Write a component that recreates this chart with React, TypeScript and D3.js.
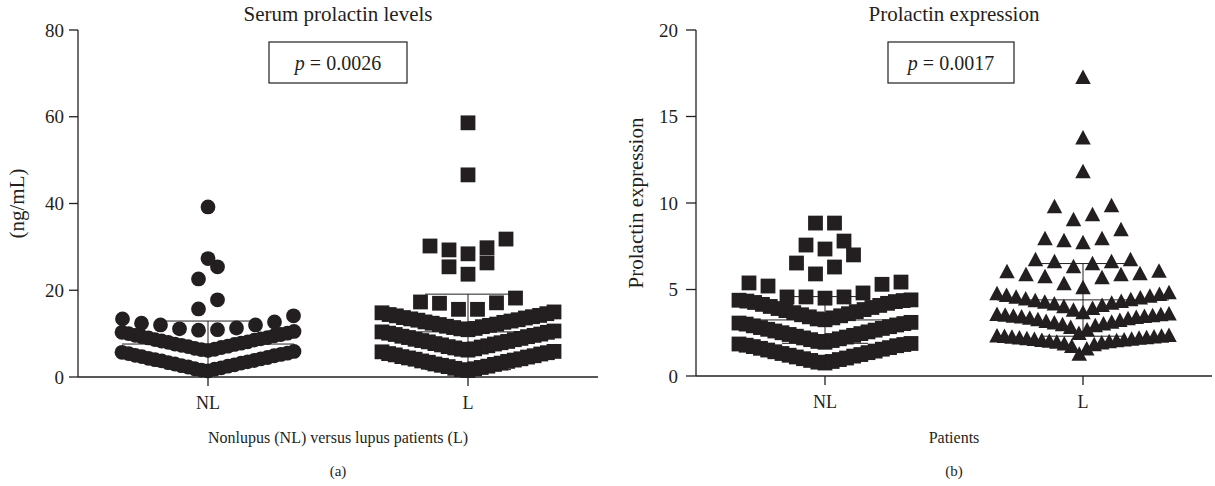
import React from 'react';
import * as d3 from 'd3';

// ---------- data ----------
const categories = ['NL', 'L'];

// Panel (a): serum prolactin (ng/mL)
const serumNL = [
  1.4, 1.6, 1.8, 1.9, 2.1, 2.3, 2.5, 2.6, 2.8, 3.0, 3.2, 3.3, 3.5, 3.7, 3.8, 4.0, 4.2, 4.3, 4.5, 4.7,
  4.9, 5.0, 5.2, 5.4, 5.5, 5.7, 5.9,
  6.1, 6.3, 6.4, 6.6, 6.8, 7.0, 7.1, 7.3, 7.5, 7.6, 7.8, 8.0, 8.1, 8.3, 8.5, 8.6, 8.8, 9.0, 9.1, 9.3,
  9.5, 9.6, 9.8, 10.0, 10.1, 10.3, 10.5,
  10.8, 10.9, 11.1, 11.3, 12.0, 12.0, 12.4, 12.7, 13.4, 14.1,
  15.7, 17.8, 22.6, 25.4, 27.3, 39.2,
];
const serumL = [
  1.5, 1.7, 1.9, 2.0, 2.2, 2.4, 2.5, 2.7, 2.9, 3.0, 3.2, 3.4, 3.6, 3.7, 3.9, 4.1, 4.2, 4.4, 4.6, 4.7,
  4.9, 5.1, 5.3, 5.4, 5.6, 5.8, 5.9,
  6.2, 6.4, 6.5, 6.7, 6.9, 7.0, 7.2, 7.4, 7.6, 7.7, 7.9, 8.1, 8.2, 8.4, 8.6, 8.7, 8.9, 9.1, 9.3, 9.4,
  9.6, 9.8, 9.9, 10.1, 10.3, 10.4, 10.6,
  10.9, 11.1, 11.2, 11.4, 11.6, 11.7, 11.9, 12.1, 12.2, 12.4, 12.6, 12.7, 12.9, 13.1, 13.2, 13.4, 13.6,
  13.7, 13.9, 14.1, 14.2, 14.4, 14.6, 14.8, 15.0,
  15.6, 15.6, 17.0, 17.1, 17.3, 18.2,
  23.7, 25.4, 26.3, 28.4, 29.3, 29.8, 30.2, 31.8, 46.6, 58.6,
];
const serumMean = [7.6, 10.4];
const serumSD = [5.3, 8.7];
const serumTicks = [0, 20, 40, 60, 80];

// Panel (b): prolactin expression
const exprNL = [
  0.75, 0.8, 0.84, 0.9, 0.95, 1.0, 1.04, 1.1, 1.15, 1.2, 1.24, 1.3, 1.35, 1.4, 1.44, 1.5, 1.55, 1.6,
  1.64, 1.7, 1.75, 1.78, 1.82, 1.85, 1.88,
  1.95, 2.0, 2.05, 2.1, 2.15, 2.2, 2.25, 2.3, 2.35, 2.4, 2.45, 2.5, 2.55, 2.6, 2.65, 2.7, 2.75, 2.8,
  2.85, 2.9, 2.95, 3.0, 3.03, 3.06, 3.1,
  3.25, 3.3, 3.36, 3.42, 3.48, 3.54, 3.6, 3.66, 3.72, 3.78, 3.84, 3.9, 3.96, 4.02, 4.08, 4.14, 4.2,
  4.25, 4.3, 4.33, 4.36, 4.38, 4.4,
  4.5, 4.57, 4.57, 4.57, 4.8, 5.2, 5.3, 5.38, 5.43,
  5.9, 6.3, 6.53, 7.0, 7.34, 7.57, 7.8, 8.84, 8.84,
];
const exprL = [
  1.3, 1.6, 1.75, 1.85, 1.9, 1.95, 2.0, 2.02, 2.05, 2.08, 2.1, 2.12, 2.15, 2.17, 2.2, 2.22, 2.24, 2.26,
  2.28, 2.3, 2.32, 2.34, 2.36, 2.38,
  2.5, 2.7, 2.85, 2.95, 3.0, 3.05, 3.1, 3.15, 3.2, 3.25, 3.3, 3.35, 3.38, 3.42, 3.45, 3.48, 3.5, 3.53,
  3.56, 3.58, 3.6, 3.62,
  3.7, 3.85, 3.95, 4.05, 4.12, 4.2, 4.25, 4.3, 4.35, 4.4, 4.45, 4.5, 4.55, 4.6, 4.65, 4.7, 4.75, 4.8, 4.85,
  5.14, 5.37, 5.72, 5.78, 5.9, 5.9, 5.95, 6.07, 6.1,
  6.36, 6.53, 6.65, 6.65, 6.76, 6.76,
  7.75, 7.86, 7.98, 7.98, 8.5,
  9.07, 9.36, 9.83, 9.88,
  11.85, 13.8, 17.3,
];
const exprMean = [3.24, 4.4];
const exprSD = [1.35, 2.1];
const exprTicks = [0, 5, 10, 15, 20];

// ---------- layout helpers ----------
const INK = '#231f20';
const FONT = '"Liberation Serif", "Times New Roman", serif';

type Pt = { v: number; off: number };

function swarm(values: number[], pxPerUnit: number, binPx: number, maxStep: number, maxHalf: number): Pt[] {
  const sorted = [...values].sort(d3.ascending);
  const binH = binPx / pxPerUnit;
  const out: Pt[] = [];
  let i = 0;
  while (i < sorted.length) {
    const v0 = sorted[i];
    let j = i;
    while (j < sorted.length && sorted[j] < v0 + binH) j++;
    const row = sorted.slice(i, j);
    const n = row.length;
    const s = n > 1 ? Math.min(maxStep, (2 * maxHalf) / (n - 1)) : 0;
    row.forEach((v, k) => {
      let off: number;
      if (n % 2 === 1) {
        const m = Math.ceil(k / 2);
        off = k === 0 ? 0 : (k % 2 === 1 ? -m : m) * s;
      } else {
        const m = Math.floor(k / 2) + 0.5;
        off = (k % 2 === 0 ? -m : m) * s;
      }
      out.push({ v, off });
    });
    i = j;
  }
  return out;
}

function Symbol({ kind, x, y }: { kind: string; x: number; y: number }) {
  if (kind === 'circle') return <circle cx={x} cy={y} r={7.4} fill={INK} />;
  if (kind === 'square') return <rect x={x - 7.4} y={y - 7.4} width={14.8} height={14.8} fill={INK} />;
  const w = 15.5, h = 14.5;
  return <path d={`M${x},${y - h / 2}L${x + w / 2},${y + h / 2}L${x - w / 2},${y + h / 2}Z`} fill={INK} />;
}

type PanelProps = {
  x0: number; x1: number; yTop: number; yBottom: number;
  domainMax: number; ticks: number[];
  groups: number[][]; kinds: string[];
  means: number[]; sds: number[];
  title: string; pText: string; boxX0: number; boxX1: number;
  yLabel: string; yLabelX: number; tickLabelX: number; tickLen: number;
  xTitle: string; letter: string;
};

function Panel(p: PanelProps) {
  const y = d3.scaleLinear().domain([0, p.domainMax]).range([p.yBottom, p.yTop]);
  const x = d3.scaleBand<string>().domain(categories).range([p.x0, p.x1]);
  const pxPerUnit = (p.yBottom - p.yTop) / p.domainMax;
  const cx = (c: string) => (x(c) as number) + x.bandwidth() / 2;
  const mid = (p.x0 + p.x1) / 2;
  const boxMid = (p.boxX0 + p.boxX1) / 2;
  return (
    <g>
      {/* points */}
      {categories.map((c, gi) =>
        swarm(p.groups[gi], pxPerUnit, 20, 19, 86).map((pt, k) => (
          <Symbol key={c + k} kind={p.kinds[gi]} x={cx(c) + pt.off} y={y(pt.v)} />
        ))
      )}
      {/* mean and SD */}
      {categories.map((c, gi) => {
        const m = p.means[gi], s = p.sds[gi];
        const X = cx(c);
        return (
          <g key={'ms' + c} stroke={INK} strokeWidth={1}>
            <line x1={X - 86} x2={X + 86} y1={y(m)} y2={y(m)} />
            <line x1={X} x2={X} y1={y(m - s)} y2={y(m + s)} />
            <line x1={X - 43} x2={X + 43} y1={y(m + s)} y2={y(m + s)} />
            <line x1={X - 43} x2={X + 43} y1={y(m - s)} y2={y(m - s)} />
          </g>
        );
      })}
      {/* axes */}
      <line x1={p.x0} x2={p.x0} y1={p.yTop} y2={p.yBottom} stroke={INK} strokeWidth={1.3} />
      <line x1={p.x0} x2={p.x1} y1={p.yBottom} y2={p.yBottom} stroke={INK} strokeWidth={1.3} />
      {p.ticks.map((t) => (
        <g key={'yt' + t}>
          <line x1={p.x0 - p.tickLen} x2={p.x0} y1={y(t)} y2={y(t)} stroke={INK} strokeWidth={1.3} />
          <text x={p.tickLabelX} y={y(t)} dy="0.35em" textAnchor="end" fontSize={19} fill={INK} fontFamily={FONT}>
            {t}
          </text>
        </g>
      ))}
      {categories.map((c) => (
        <g key={'xt' + c}>
          <line x1={cx(c)} x2={cx(c)} y1={p.yBottom} y2={p.yBottom + 9} stroke={INK} strokeWidth={1.3} />
          <text x={cx(c)} y={p.yBottom + 32} textAnchor="middle" fontSize={18} fill={INK} fontFamily={FONT}>
            {c}
          </text>
        </g>
      ))}
      {/* titles */}
      <text x={mid} y={21} textAnchor="middle" fontSize={21} fill={INK} fontFamily={FONT}>{p.title}</text>
      <rect x={p.boxX0} y={42} width={p.boxX1 - p.boxX0} height={41} fill="none" stroke={INK} strokeWidth={1.2} />
      <text x={boxMid} y={70} textAnchor="middle" fontSize={20} fill={INK} fontFamily={FONT}>
        <tspan fontStyle="italic">p</tspan>
        {' = ' + p.pText}
      </text>
      <text
        transform={`translate(${p.yLabelX},${(p.yTop + p.yBottom) / 2}) rotate(-90)`}
        textAnchor="middle" fontSize={21} fill={INK} fontFamily={FONT}
      >
        {p.yLabel}
      </text>
      <text x={mid} y={443} textAnchor="middle" fontSize={16} fill={INK} fontFamily={FONT}>{p.xTitle}</text>
      <text x={mid} y={476} textAnchor="middle" fontSize={15} fill={INK} fontFamily={FONT}>{p.letter}</text>
    </g>
  );
}

export default function App() {
  return (
    <svg width={1215} height={486} style={{ position: 'absolute', left: 0, top: 0, background: '#fff' }}>
      <rect width={1215} height={486} fill="#fff" />
      <Panel
        x0={78} x1={598} yTop={30} yBottom={377} domainMax={80} ticks={serumTicks}
        groups={[serumNL, serumL]} kinds={['circle', 'square']}
        means={serumMean} sds={serumSD}
        title="Serum prolactin levels" pText="0.0026" boxX0={269} boxX1={407}
        yLabel="(ng/mL)" yLabelX={24} tickLabelX={64} tickLen={9}
        xTitle="Nonlupus (NL) versus lupus patients (L)" letter="(a)"
      />
      <Panel
        x0={696} x1={1212} yTop={30} yBottom={376} domainMax={20} ticks={exprTicks}
        groups={[exprNL, exprL]} kinds={['square', 'triangle']}
        means={exprMean} sds={exprSD}
        title="Prolactin expression" pText="0.0017" boxX0={888} boxX1={1014}
        yLabel="Prolactin expression" yLabelX={643} tickLabelX={678} tickLen={10}
        xTitle="Patients" letter="(b)"
      />
    </svg>
  );
}
